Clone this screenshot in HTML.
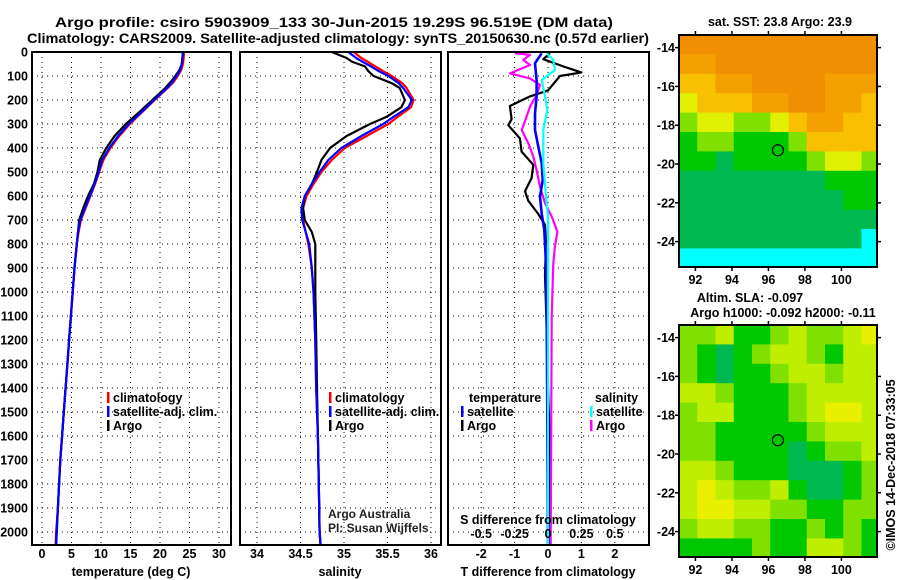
<!DOCTYPE html>
<html><head><meta charset="utf-8"><style>
html,body{margin:0;padding:0;background:#fff;}
svg{display:block;font-family:"Liberation Sans",Arial,sans-serif;}
.b{font-weight:bold;font-size:12.5px;}
.t{font-weight:bold;font-size:13.5px;}
</style></head><body>
<svg id="c" width="900" height="580" viewBox="0 0 900 580" xmlns="http://www.w3.org/2000/svg">
<text class="t" x="55" y="27" textLength="558" lengthAdjust="spacingAndGlyphs">Argo profile: csiro 5903909_133 30-Jun-2015 19.29S 96.519E (DM data)</text>
<text class="t" x="27" y="43" textLength="622" lengthAdjust="spacingAndGlyphs">Climatology: CARS2009. Satellite-adjusted climatology: synTS_20150630.nc (0.57d earlier)</text>
<g id="g"></g>
</svg>
<script>
// ---- profile data ----
const depths = [0,25,50,75,100,125,150,175,200,250,300,350,400,450,500,550,600,650,700,750,800,900,1000,1100,1200,1300,1400,1500,1600,1700,1800,1900,2000,2050];
const tempArgo = [23.9,23.8,23.7,23.3,22.6,21.8,20.9,19.8,18.7,16.5,14.2,12.3,10.9,9.8,9.4,8.8,7.8,7.0,6.3,6.1,5.9,5.5,5.2,4.9,4.6,4.3,4.0,3.7,3.4,3.1,2.9,2.7,2.5,2.4];
const tempClim = [24.1,24.0,23.9,23.6,23.0,22.3,21.3,20.2,19.1,17.0,14.9,13.1,11.6,10.4,9.7,9.0,8.2,7.4,6.6,6.2,5.9,5.5,5.2,4.9,4.6,4.3,4.0,3.7,3.4,3.1,2.9,2.7,2.4,2.3];
const tempSat = [23.9,23.8,23.7,23.4,22.8,22.1,21.2,20.1,19.0,16.9,14.7,12.9,11.4,10.2,9.6,8.9,8.1,7.3,6.5,6.1,5.9,5.5,5.2,4.9,4.6,4.3,4.0,3.7,3.4,3.1,2.9,2.7,2.45,2.4];
const salDepths = [0,25,40,60,80,100,130,150,200,230,270,300,350,400,450,500,550,600,650,700,750,800,900,1000,1200,1400,1600,1800,2000,2050];
const salArgo = [34.86,35.03,35.09,35.24,35.28,35.34,35.55,35.64,35.70,35.66,35.49,35.30,35.03,34.84,34.74,34.69,34.63,34.55,34.53,34.55,34.63,34.67,34.67,34.67,34.68,34.69,34.70,34.71,34.72,34.73];
const salClim = [35.11,35.20,35.27,35.36,35.45,35.55,35.67,35.72,35.80,35.77,35.62,35.51,35.26,35.01,34.86,34.74,34.65,34.57,34.53,34.53,34.56,34.59,34.63,34.65,34.67,34.68,34.70,34.71,34.72,34.73];
const salSat = [35.05,35.14,35.21,35.31,35.40,35.51,35.63,35.68,35.78,35.74,35.57,35.45,35.20,34.97,34.82,34.72,34.63,34.55,34.51,34.52,34.56,34.60,34.63,34.65,34.67,34.68,34.70,34.71,34.72,34.73];
const tdArgoDepth = [5,30,65,85,100,125,160,185,225,280,305,360,415,470,525,580,620,675,720,790,930,1100,1400,1600,1800,2050];
const tdArgo = [0.06,-0.14,0.56,1.0,0.36,0.21,0,-0.54,-1.14,-1.09,-1.19,-0.84,-0.79,-0.44,-0.49,-0.69,-0.59,-0.29,-0.09,-0.06,-0.09,-0.05,0.0,0.05,0.05,0.05];
const tdSatDepth = [5,47,117,186,256,325,394,464,533,603,672,742,881,1100,1500,2050];
const tdSat = [-0.19,-0.39,-0.34,-0.34,-0.39,-0.39,-0.29,-0.19,-0.16,-0.24,-0.19,-0.11,-0.06,-0.04,-0.02,0];
const sdArgoDepth = [5,12,33,54,89,110,137,179,228,269,325,381,436,492,561,631,686,749,811,881,1100,1500,2050];
const sdArgo = [-0.247,-0.135,-0.185,-0.135,-0.284,-0.135,-0.06,-0.085,-0.135,-0.16,-0.197,-0.147,-0.11,-0.085,-0.06,-0.022,0.028,0.07,0.052,0.04,0.028,0.025,0.02];
const sdSatDepth = [5,33,75,117,186,242,325,464,603,686,900,1500,2050];
const sdSat = [-0.01,0.04,0.052,-0.047,-0.022,-0.005,-0.035,-0.035,-0.015,0,0,0,0];
const depthTicks = [0,100,200,300,400,500,600,700,800,900,1000,1100,1200,1300,1400,1500,1600,1700,1800,1900,2000];
const tempTicks = [0,5,10,15,20,25,30];
const salTicks = [34,34.5,35,35.5,36];
const tdTicks = [-2,-1,0,1,2];
const sdTicks = [-0.5,-0.25,0,0.25,0.5];
const sdTickLabels = ["-0.5","-0.25","0","0.25","0.5"];
// ---- map data (1-degree cells, rows from north) ----
const mapLons = [91.1,92.1,93.1,94.1,95.1,96.1,97.1,98.1,99.1,100.1,101.1];
const mapLats = [-13.35,-14.35,-15.35,-16.35,-17.35,-18.35,-19.35,-20.35,-21.35,-22.35,-23.35,-24.35];
const sstCells = [
[7,7,7,7,7,7,7,7,7,7,7],[6,6,7,7,7,7,7,7,7,7,7],[5,5,6,6,7,7,7,7,6,6,6],[4,5,5,5,6,6,7,7,6,6,5],
[3,4,4,3,3,4,5,6,6,5,5],[2,3,3,2,2,2,3,5,5,5,5],[2,2,1,2,2,2,2,3,4,4,3],[1,1,1,1,1,1,1,1,2,2,2],
[1,1,1,1,1,1,1,1,1,2,2],[1,1,1,1,1,1,1,1,1,1,1],[1,1,1,1,1,1,1,1,1,1,0],[0,0,0,0,0,0,0,0,0,0,0]];
const slaCells = [
[2,2,3,1,1,2,3,2,2,3,4],[2,1,0,1,2,3,3,2,1,3,3],[2,1,0,1,1,2,3,3,2,3,3],[3,3,2,1,1,1,2,3,3,3,3],
[2,3,3,1,1,1,2,3,4,4,3],[2,2,1,1,1,1,1,2,3,3,3],[2,2,1,1,1,1,0,1,2,2,3],[3,3,2,1,1,1,0,0,0,1,2],
[3,4,3,2,2,3,1,0,0,1,2],[3,4,4,3,3,2,2,1,1,2,2],[2,3,3,2,2,1,1,2,1,2,1],[1,1,1,1,2,1,1,3,3,2,1]];
const lonTicks = [92,94,96,98,100];
const latTicks = [-14,-16,-18,-20,-22,-24];
const floatLon = 96.519, floatLat = -19.29;

const NS="http://www.w3.org/2000/svg";
const G=document.getElementById('g');
function mk(tag,attrs,parent){const e=document.createElementNS(NS,tag);for(const k in attrs)e.setAttribute(k,attrs[k]);(parent||G).appendChild(e);return e;}
function txt(x,y,s,cls,anchor,parent){const e=mk('text',{x:x,y:y,class:cls||'b','text-anchor':anchor||'middle'},parent);e.textContent=s;return e;}
const yD=d=>52+d*0.24;
const xT=t=>42+t*5.9;
const xS=s=>257+(s-34)*87;
const xTd=v=>548+v*33.4;
const xSd=v=>548+v*133.6;
const TOP=52,BOT=545;
const panels=[{x0:32,x1:231,n:'temperature-panel'},{x0:240,x1:441,n:'salinity-panel'},{x0:448,x1:649,n:'difference-panel'}];

depthTicks.forEach(d=>{const e=txt(28,yD(d)+4.5,String(d),'b','end');

});

function grid(p,xs){
  const g=mk('g',{});
  
  
  xs.forEach(x=>mk('line',{x1:x,x2:x,y1:TOP,y2:BOT,stroke:'#000','stroke-width':1,'stroke-dasharray':'1,4'},g));
  depthTicks.forEach(d=>mk('line',{x1:p.x0,x2:p.x1,y1:yD(d),y2:yD(d),stroke:'#000','stroke-width':1,'stroke-dasharray':'1,4'},g));
}
function frame(p){const r=mk('rect',{x:p.x0,y:TOP,width:p.x1-p.x0,height:BOT-TOP,fill:'none',stroke:'#000','stroke-width':2});

}
function series(ds,vs,fx,color,name,w){
  const pts=ds.map((d,i)=>fx(vs[i]).toFixed(1)+','+yD(d).toFixed(1)).join(' ');
  const e=mk('polyline',{points:pts,fill:'none',stroke:color,'stroke-width':w||2.2,'stroke-linejoin':'round'});
  
  
}
grid(panels[0],tempTicks.map(xT));
grid(panels[1],salTicks.map(xS));
grid(panels[2],tdTicks.map(xTd));
series(depths,tempClim,xT,'#ff0000','temp-climatology-line');
series(depths,tempArgo,xT,'#000000','temp-argo-line');
series(depths,tempSat,xT,'#0000ff','temp-satellite-line');
series(salDepths,salClim,xS,'#ff0000','salinity-climatology-line');
series(salDepths,salArgo,xS,'#000000','salinity-argo-line');
series(salDepths,salSat,xS,'#0000ff','salinity-satellite-line');
series(tdArgoDepth,tdArgo,xTd,'#000000','tdiff-argo-line');
series(sdArgoDepth,sdArgo,xSd,'#ff00ff','sdiff-argo-line');
series(tdSatDepth,tdSat,xTd,'#0000ff','tdiff-satellite-line',2.6);
series(sdSatDepth,sdSat,xSd,'#00ffff','sdiff-satellite-line');
panels.forEach(frame);

tempTicks.forEach(t=>{const e=txt(xT(t),558,String(t));

});
salTicks.forEach(s=>{const e=txt(xS(s),558,String(s));

});
tdTicks.forEach(t=>{const e=txt(xTd(t),558,String(t));

});
sdTicks.forEach((s,i)=>{const e=txt(xSd(s),538,sdTickLabels[i]);

});
[[131,'temperature (deg C)','temp-axis-title'],[340,'salinity','salinity-axis-title'],[548,'T difference from climatology','tdiff-axis-title'],[548,'S difference from climatology','sdiff-axis-title']].forEach((a,i)=>{
 const e=txt(a[0],i==3?524:576,a[1]);
 
 });

function leg(x,y,color,label,name){
 const g=mk('g',{});
 
 
 mk('rect',{x:x,y:y-10,width:2.5,height:11,fill:color},g);
 if(label)txt(x+6,y,label,'b','start',g);
}
leg(107,402,'#ff0000','climatology','legend-temp-climatology');
leg(107,416,'#0000ff','satellite-adj. clim.','legend-temp-satellite');
leg(107,430,'#000000','Argo','legend-temp-argo');
leg(329,402,'#ff0000','climatology','legend-sal-climatology');
leg(329,416,'#0000ff','satellite-adj. clim.','legend-sal-satellite');
leg(329,430,'#000000','Argo','legend-sal-argo');
{const e=txt(469,402,'temperature','b','start');}
{const e=txt(595,402,'salinity','b','start');}
leg(461,416,'#0000ff','satellite','legend-tdiff-satellite');
leg(461,430,'#000000','Argo','legend-tdiff-argo');
leg(590,416,'#00ffff','satellite','legend-sdiff-satellite');
leg(590,430,'#ff00ff','Argo','legend-sdiff-argo');
{const e=txt(328,518,'Argo Australia','', 'start');e.setAttribute('style','font-size:12px;fill:#222');}
{const e=txt(328,532,'PI: Susan Wijffels','', 'start');e.setAttribute('style','font-size:12px;fill:#222');}

// ---- maps ----
const sstColors=['#00ffff','#00b850','#00c800','#80e000','#e0f000','#f8c000','#f4a000','#f09000'];
const slaColors=['#00b850','#00c800','#80e000','#c0ee00','#e8f000'];
function drawMap(y0,cells,colors,name){
 const X0=679,X1=877,Y1=y0+232,LON0=91.1,LAT0=-13.35,px=18.25,py=19.4;
 const mx=l=>X0+(l-LON0)*px, my=l=>y0+(LAT0-l)*py;
 const g=mk('g',{});
 
 
 cells.forEach((row,r)=>row.forEach((v,c)=>{
  const x=mx(mapLons[c]),y=my(mapLats[r]);
  const w=Math.min(px,X1-x)+0.5,h=Math.min(py,Y1-y)+0.5;
  if(h>0&&w>0)mk('rect',{x:x,y:y,width:w,height:h,fill:colors[v]},g);
 }));
 mk('rect',{x:X0,y:y0,width:X1-X0,height:Y1-y0,fill:'none',stroke:'#000','stroke-width':2},g);
 lonTicks.forEach(l=>{const x=mx(l);
  mk('line',{x1:x,x2:x,y1:y0-4,y2:y0,stroke:'#000','stroke-width':1.5},g);
  mk('line',{x1:x,x2:x,y1:Y1,y2:Y1+4,stroke:'#000','stroke-width':1.5},g);
  const e=txt(x,Y1+17,String(l),'b','middle',g);
  
  });
 latTicks.forEach(l=>{const y=my(l);
  mk('line',{x1:X0-4,x2:X0,y1:y,y2:y,stroke:'#000','stroke-width':1.5},g);
  mk('line',{x1:X1,x2:X1+4,y1:y,y2:y,stroke:'#000','stroke-width':1.5},g);
  const e=txt(X0-4,y+4.5,String(l),'b','end',g);
  
  });
 const c=mk('circle',{cx:mx(floatLon),cy:my(floatLat),r:5.5,fill:'none',stroke:'#000','stroke-width':1.2},g);
 
 
}
drawMap(35,sstCells,sstColors,'sst-map');
drawMap(325,slaCells,slaColors,'sla-map');
{const e=txt(780,26,'sat. SST: 23.8 Argo: 23.9');}
{const e=txt(750,302,'Altim. SLA: -0.097');}
{const e=txt(783,317,'Argo h1000: -0.092 h2000: -0.11');}
{const e=txt(0,0,'©IMOS 14-Dec-2018 07:33:05','','middle');e.setAttribute('transform','translate(895,465) rotate(-90)');e.setAttribute('style','font-size:12.5px');}
</script>
</body></html>
